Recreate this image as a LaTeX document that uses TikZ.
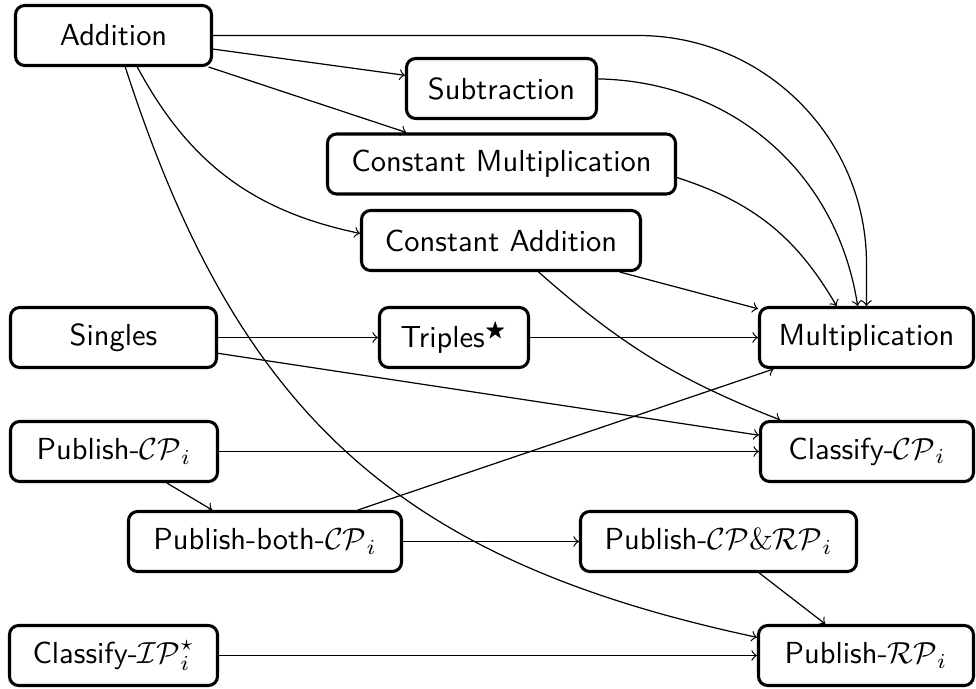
\documentclass[tikz,border=0pt]{standalone}
\usepackage{amssymb}
\usetikzlibrary{arrows}
\begin{document}
\begin{tikzpicture}[
  x=0.3284pt, y=-0.3284pt,
  box/.style={draw, line width=1pt, rounded corners=3pt, font=\sffamily,
    minimum height=19.7pt, inner xsep=6pt, align=center},
  bw/.style={minimum width=#1*0.3284pt-0.2pt},
  link/.style={->, line width=0.4pt}
]
\useasboundingbox (0,0) rectangle (976,689);

% operations on shared values
\node[box, bw=196.6] (add)   at (113.5,35.5)  {Addition};
\node[box, bw=190.6] (sub)   at (501.5,88.5)  {Subtraction};
\node[box, bw=348.6] (cmul)  at (501.5,164)   {Constant Multiplication};
\node[box, bw=279.6] (cadd)  at (501,240.5)   {Constant Addition};
\node[box, bw=206.6] (sing)  at (113.5,337.5) {Singles};
\node[box, bw=149.6] (trip)  at (454,337.5)   {Triples$^{\bigstar}$};
\node[box, bw=214.6] (mult)  at (866.5,337.5) {Multiplication};

% publishing and classification steps
\node[box, bw=207.6] (pcp)   at (114,451.5)   {Publish-$\mathcal{CP}_i$};
\node[box, bw=213.6] (ccp)   at (867,451.5)   {Classify-$\mathcal{CP}_i$};
\node[box, bw=273.6] (pboth) at (265,541.5)   {Publish-both-$\mathcal{CP}_i$};
\node[box, bw=276.6] (pcprp) at (718.5,541.5) {Publish-$\mathcal{CP}\&\mathcal{RP}_i$};
\node[box, bw=208.6] (cip)   at (113.5,655.5) {Classify-$\mathcal{IP}^{\star}_i$};
\node[box, bw=215.6] (prp)   at (866,655.5)   {Publish-$\mathcal{RP}_i$};

% dependencies
\draw[link] (add) -- (sub);
\draw[link] (add) -- (cmul);
\draw[link] (add) to[bend right=25] (cadd);
\draw[link, rounded corners=75pt] (add) -| (mult);
\draw[link] (add) to[bend right=30, looseness=1.1] (prp);
\draw[link] (sub) to[bend left=40] (mult);
\draw[link] (cmul) to[bend left=21] (mult);
\draw[link] (cadd) -- (mult);
\draw[link] (cadd) to[bend right=10] (ccp);
\draw[link] (sing) -- (trip);
\draw[link] (trip) -- (mult);
\draw[link] (sing) -- (ccp);
\draw[link] (pcp) -- (ccp);
\draw[link] (pcp) -- (pboth);
\draw[link] (pboth) -- (mult);
\draw[link] (pboth) -- (pcprp);
\draw[link] (pcprp) -- (prp);
\draw[link] (cip) -- (prp);
\end{tikzpicture}
\end{document}
